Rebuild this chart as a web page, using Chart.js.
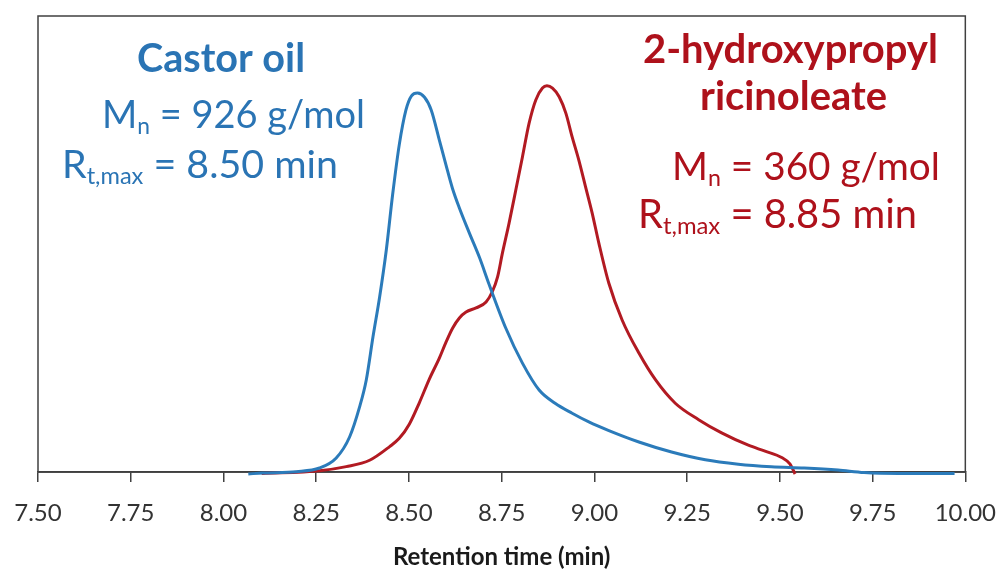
<!DOCTYPE html>
<html><head><meta charset="utf-8">
<script src="https://cdn.jsdelivr.net/npm/chart.js@4.4.1/dist/chart.umd.min.js"></script>
<style>html,body{margin:0;padding:0;background:#fff;}#wrap{position:relative;width:1008px;height:575px;}</style>
</head><body><div id="wrap"><canvas id="c" width="1008" height="575"></canvas></div>
<script>
// Retention time (min) and relative detector response
const castorX = [8.067,8.106,8.197,8.259,8.304,8.340,8.367,8.385,8.403,8.421,8.439,8.456,8.474,8.492,8.507,8.523,8.542,8.560,8.582,8.600,8.617,8.636,8.663,8.690,8.716,8.761,8.806,8.851,8.894,8.940,8.985,9.039,9.120,9.208,9.299,9.388,9.477,9.566,9.657,9.727,9.819,9.971];
const castorY = [-0.4,-0.2,0.1,0.9,3.1,7.7,14.3,20.2,29.6,38.4,48.7,60.8,71.8,79.4,82.5,83.1,82.2,79.4,72.8,67.3,62.3,57.9,52.4,47.1,41.2,31.6,23.9,18.0,15.1,12.9,11.0,9.1,6.6,4.4,2.7,1.75,1.2,0.9,0.44,-0.1,-0.3,-0.3];
const hprX = [8.103,8.259,8.331,8.394,8.448,8.474,8.501,8.528,8.555,8.582,8.600,8.618,8.636,8.654,8.681,8.708,8.725,8.739,8.752,8.770,8.788,8.806,8.824,8.842,8.860,8.872,8.887,8.905,8.923,8.940,8.958,8.976,8.994,9.012,9.039,9.075,9.120,9.165,9.218,9.281,9.343,9.415,9.460,9.505,9.527,9.541];
const hprY = [-0.3,0.3,1.2,2.6,5.6,7.4,10.5,15.2,20.4,25.0,28.5,31.6,33.8,35.1,36.0,37.3,39.6,42.8,48.0,54.6,61.8,69.1,76.5,81.6,84.2,84.7,84.2,82.3,78.7,73.5,68.4,62.6,56.8,50.2,41.4,33.3,26.1,20.2,15.1,11.5,8.6,5.9,4.6,3.2,1.8,-0.4];
const xTicks = [7.50,7.75,8.00,8.25,8.50,8.75,9.00,9.25,9.50,9.75,10.00];
const xTitle = 'Retention time (min)';

const BLUE_LINE = '#2b7bba', RED_LINE = '#b21a22';
const BLUE_TEXT = '#2a74b4', RED_TEXT = '#ae111b';
const AXIS = '#404040';
const FONT = 'Lato, "Open Sans", sans-serif';

const notes = [
  {parts:[{t:'Castor oil'}], bold:true, color:BLUE_TEXT, x:137, y:72, w:168},
  {parts:[{t:'M'},{t:'n',sub:true},{t:' = 926 g/mol'}], color:BLUE_TEXT, x:102, y:128, w:263},
  {parts:[{t:'R'},{t:'t,max',sub:true},{t:' = 8.50 min'}], color:BLUE_TEXT, x:62, y:178, w:276},
  {parts:[{t:'2-hydroxypropyl'}], bold:true, color:RED_TEXT, x:643, y:63, w:295},
  {parts:[{t:'ricinoleate'}], bold:true, color:RED_TEXT, x:700, y:110, w:187},
  {parts:[{t:'M'},{t:'n',sub:true},{t:' = 360 g/mol'}], color:RED_TEXT, x:672, y:180, w:268},
  {parts:[{t:'R'},{t:'t,max',sub:true},{t:' = 8.85 min'}], color:RED_TEXT, x:638, y:228, w:279}
];

function measure(ctx, n, size){
  let w = 0;
  for (const p of n.parts){
    const s = p.sub ? size*0.6 : size;
    ctx.font = (n.bold?'bold ':'') + s + 'px ' + FONT;
    w += ctx.measureText(p.t).width;
  }
  return w;
}
const notesPlugin = {
  id:'notes',
  afterDatasetsDraw(chart){
    const ctx = chart.ctx;
    ctx.save();
    ctx.textBaseline = 'alphabetic';
    for (const n of notes){
      const size = 100 * n.w / measure(ctx, n, 100);
      let x = n.x;
      ctx.fillStyle = n.color;
      for (const p of n.parts){
        const s = p.sub ? size*0.6 : size;
        ctx.font = (n.bold?'bold ':'') + s + 'px ' + FONT;
        ctx.fillText(p.t, x, n.y + (p.sub ? size*0.15 : 0));
        x += ctx.measureText(p.t).width;
      }
    }
    ctx.restore();
  }
};
const framePlugin = {
  id:'frame',
  beforeDatasetsDraw(chart){
    const a = chart.chartArea, ctx = chart.ctx;
    ctx.save();
    ctx.strokeStyle = AXIS; ctx.lineWidth = 1.5;
    ctx.strokeRect(a.left, a.top, a.right - a.left, a.bottom - a.top);
    ctx.restore();
  }
};

new Chart(document.getElementById('c'), {
  type:'line',
  data:{datasets:[
    {label:'Castor oil', data: castorX.map((x,i)=>({x, y:castorY[i]})), borderColor:BLUE_LINE, borderWidth:3, pointRadius:0, cubicInterpolationMode:'monotone', clip:false},
    {label:'2-hydroxypropyl ricinoleate', data: hprX.map((x,i)=>({x, y:hprY[i]})), borderColor:RED_LINE, borderWidth:3, pointRadius:0, cubicInterpolationMode:'monotone', clip:false}
  ]},
  options:{
    responsive:false, animation:false, devicePixelRatio:1,
    layout:{padding:{left:38, right:40, top:16, bottom:6}},
    plugins:{legend:{display:false}, tooltip:{enabled:false}},
    scales:{
      x:{type:'linear', min:7.5, max:10,
        afterBuildTicks(s){ s.ticks = xTicks.map(v=>({value:v})); },
        ticks:{callback:v=>Number(v).toFixed(2), color:'#333', font:{family:FONT, size:24, lineHeight:1.62}, padding:12, maxRotation:0, autoSkip:false},
        grid:{display:true, drawOnChartArea:false, drawTicks:true, tickLength:10, color:AXIS, lineWidth:1.5},
        border:{display:true, color:AXIS, width:1.5},
        title:{display:true, text:xTitle, color:'#1a1a1a', font:{family:FONT, size:24, weight:'bold', lineHeight:1.0}, padding:{top:0, bottom:0}}
      },
      y:{display:false, min:0, max:100}
    }
  },
  plugins:[framePlugin, notesPlugin]
});
</script></body></html>
